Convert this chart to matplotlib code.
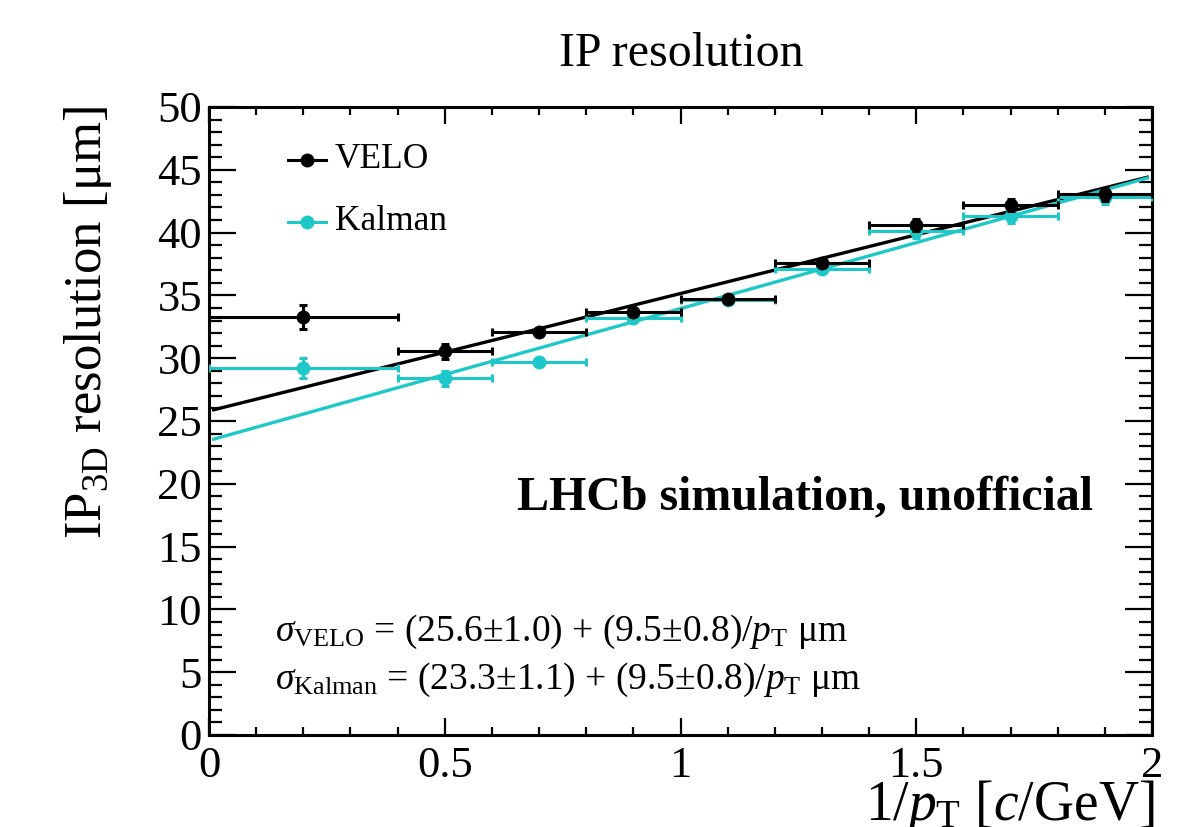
import matplotlib
matplotlib.use("Agg")
import matplotlib.pyplot as plt
from matplotlib.ticker import MultipleLocator
import numpy as np

# ---- data ----
bin_centers = [0.2, 0.5, 0.7, 0.9, 1.1, 1.3, 1.5, 1.7, 1.9]
bin_halfwidths = [0.2, 0.1, 0.1, 0.1, 0.1, 0.1, 0.1, 0.1, 0.1]
velo_res = [33.25, 30.55, 32.05, 33.65, 34.75, 37.6, 40.6, 42.2, 43.05]
velo_err = [0.95, 0.6, 0.3, 0.3, 0.3, 0.3, 0.5, 0.5, 0.5]
kalman_res = [29.2, 28.4, 29.7, 33.2, 34.6, 37.1, 40.1, 41.3, 42.8]
kalman_err = [0.8, 0.6, 0.3, 0.3, 0.3, 0.3, 0.5, 0.5, 0.5]
velo_fit = (25.8, 9.35)     # intercept, slope as drawn
kalman_fit = (23.45, 10.5)
fit_range = [0.01, 1.99]
x_ticks = [0, 0.5, 1, 1.5, 2]
x_ticklabels = ['0', '0.5', '1', '1.5', '2']

plt.rcParams['font.family'] = ['Liberation Serif', 'DejaVu Serif']
plt.rcParams['mathtext.fontset'] = 'custom'
plt.rcParams['mathtext.rm'] = 'Liberation Serif'
plt.rcParams['mathtext.it'] = 'Liberation Serif:italic'
plt.rcParams['mathtext.bf'] = 'Liberation Serif:bold'

BLACK = '#000000'
CYAN = '#1ec8c8'

W, H = 1179, 827
fig = plt.figure(figsize=(W/100, H/100), dpi=100)
L, R, T, B = 209, 1152, 107, 735
ax = fig.add_axes([L/W, 1-B/H, (R-L)/W, (B-T)/H])

xf = np.array(fit_range)
ax.plot(xf, velo_fit[0] + velo_fit[1]*xf, color=BLACK, lw=2.4, zorder=3)
ax.plot(xf, kalman_fit[0] + kalman_fit[1]*xf, color=CYAN, lw=2.4, zorder=3)

ax.errorbar(bin_centers, kalman_res, xerr=bin_halfwidths, yerr=kalman_err,
            fmt='o', color=CYAN, ms=9, elinewidth=2.2, capsize=3, capthick=2.2, zorder=4)
ax.errorbar(bin_centers, velo_res, xerr=bin_halfwidths, yerr=velo_err,
            fmt='o', color=BLACK, ms=9, elinewidth=2.2, capsize=3, capthick=2.2, zorder=5)

ax.set_xlim(0, 2)
ax.set_ylim(0, 50)
ax.xaxis.set_minor_locator(MultipleLocator(0.1))
ax.yaxis.set_major_locator(MultipleLocator(5))
ax.yaxis.set_minor_locator(MultipleLocator(1))
ax.set_xticks(x_ticks)
ax.set_xticklabels(x_ticklabels)
ax.tick_params(which='both', direction='in', top=True, right=True, width=1.6, labelsize=32, colors='black')
ax.tick_params(axis='y', which='major', length=19.5, pad=5)
ax.tick_params(axis='y', which='minor', length=9.5)
ax.tick_params(axis='x', which='major', length=12, pad=8)
ax.tick_params(axis='x', which='minor', length=6)
for s in ax.spines.values():
    s.set_linewidth(2.2)

# legend (manual)
leg_x0, leg_x1 = 288, 326
for yy, col, lab in [(160, BLACK, 'VELO'), (222, CYAN, 'Kalman')]:
    fy = 1 - yy/H
    fig.add_artist(plt.Line2D([leg_x0/W, leg_x1/W], [fy, fy], color=col, lw=2.2))
    fig.add_artist(plt.Line2D([307/W], [fy], marker='o', color=col, ms=9))
    fig.text(335/W, fy, lab, fontsize=25.5, va='center', ha='left')

fig.text(681/W, 1-54/H, 'IP resolution', fontsize=34.5, ha='center', va='center')
fig.text(88/W, 1-322/H, r'IP$_{\rm 3D}$ resolution [μm]', fontsize=38,
         rotation=90, ha='center', va='center')
fig.text(1155/W, 1-820/H, r'1/$p_{\rm T}$ [$c$/GeV]', fontsize=40, ha='right', va='baseline')

fig.text(1093/W, 1-498/H, 'LHCb simulation, unofficial', fontsize=34.5, fontweight='bold',
         ha='right', va='center')
fig.text(275/W, 1-632/H, r'$\sigma_{\rm VELO}$ = (25.6$\pm$1.0) + (9.5$\pm$0.8)/$p_{\rm T}$ μm',
         fontsize=27, ha='left', va='center')
fig.text(275/W, 1-680/H, r'$\sigma_{\rm Kalman}$ = (23.3$\pm$1.1) + (9.5$\pm$0.8)/$p_{\rm T}$ μm',
         fontsize=27, ha='left', va='center')

fig.savefig('out.png', dpi=100)
